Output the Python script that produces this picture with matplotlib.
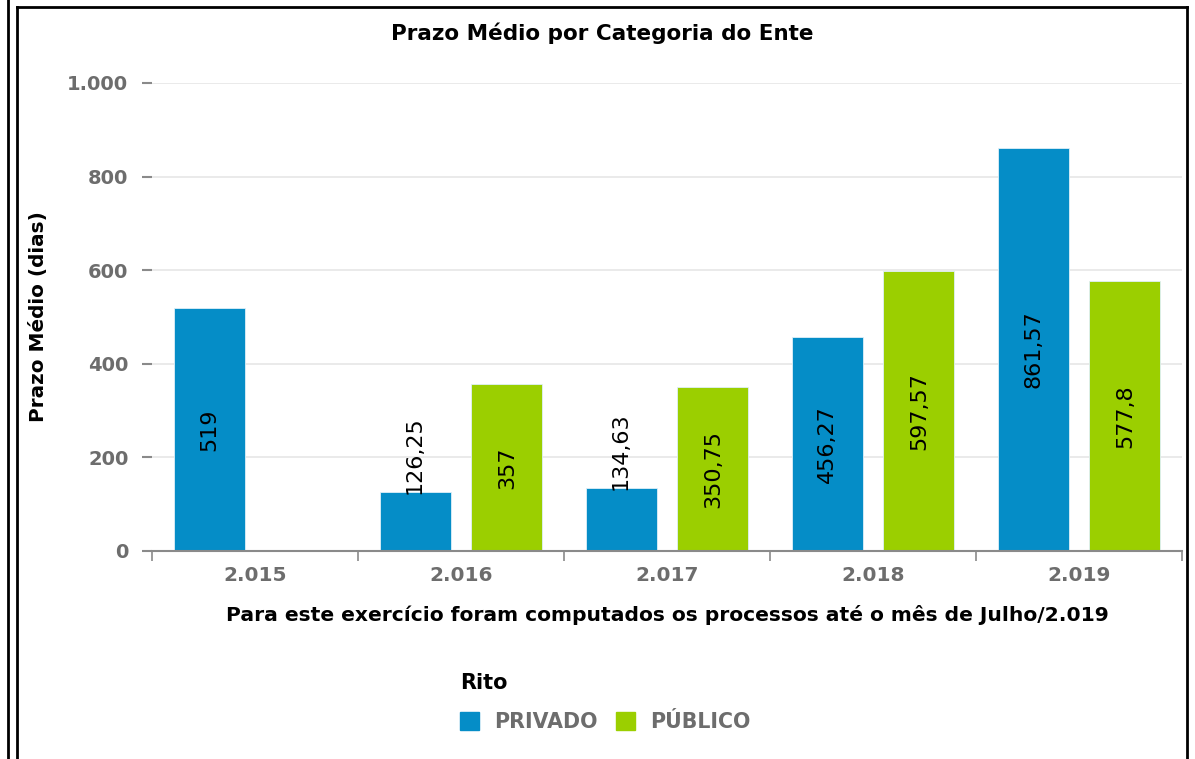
import numpy as np
import matplotlib
matplotlib.use("Agg")
import matplotlib.pyplot as plt
from matplotlib.lines import Line2D
from matplotlib.patches import Patch
import matplotlib.transforms as mtransforms

# data
years = ["2.015", "2.016", "2.017", "2.018", "2.019"]
privado = [519, 126.25, 134.63, 456.27, 861.57]
publico = [None, 357, 350.75, 597.57, 577.8]
series_names = ["PRIVADO", "PÚBLICO"]
yticks = [0, 200, 400, 600, 800, 1000]
ytick_labels = ["0", "200", "400", "600", "800", "1.000"]

blue = "#058DC7"
green = "#9BCF00"
gray = "#6d6d6d"

W, H = 1195, 759
fig = plt.figure(figsize=(W / 100, H / 100), dpi=100)
ax = fig.add_axes([152 / W, 1 - 551 / H, (1182 - 152) / W, (551 - 83) / H])

x = np.arange(len(years))
off = 0.223
bw = 0.345

def fmt(v):
    s = ("%.2f" % v).rstrip("0").rstrip(".")
    return s.replace(".", ",")

for vals, color, dx in [(privado, blue, -off), (publico, green, off)]:
    for i, v in enumerate(vals):
        if v is None:
            continue
        ax.bar(x[i] + dx, v, width=bw, color=color, edgecolor="#dff0f8", linewidth=0.6, zorder=3)
        if v > 300:
            ax.text(x[i] + dx, v / 2, fmt(v), rotation=90, ha="center", va="center",
                    fontsize=16, color="black", zorder=4)
        else:
            tr = mtransforms.offset_copy(ax.transData, fig=fig, x=0, y=-2, units="dots")
            ax.text(x[i] + dx, v, fmt(v), rotation=90, ha="center", va="bottom",
                    fontsize=16, color="black", zorder=4, transform=tr)

ax.set_xlim(-0.5, 4.5)
ax.set_ylim(0, 1000)
ax.set_yticks(yticks)
ax.set_yticklabels(ytick_labels)
ax.set_xticks(x)
ax.set_xticklabels(years)
ax.set_xticks(np.arange(-0.5, 5, 1), minor=True)
ax.tick_params(axis="x", which="major", length=0, pad=11, labelsize=14.5, labelcolor=gray)
ax.tick_params(axis="x", which="minor", length=7, color="#8a8a8a", width=1.2)
ax.tick_params(axis="y", length=7, color="#8a8a8a", width=1.5, pad=10, labelsize=14, labelcolor=gray)
for lab in ax.get_xticklabels() + ax.get_yticklabels():
    lab.set_fontweight("bold")

ax.grid(axis="y", color="#e6e6e6", linewidth=1.2, zorder=0)
for s in ["top", "right", "left"]:
    ax.spines[s].set_visible(False)
ax.spines["bottom"].set_color("#8a8a8a")
ax.spines["bottom"].set_linewidth(1.5)
ax.spines["bottom"].set_zorder(5)

fig.text(602 / W, 1 - 33 / H, "Prazo Médio por Categoria do Ente", fontsize=15.5,
         fontweight="bold", ha="center", va="center")
ax.set_ylabel("Prazo Médio (dias)", fontsize=14.4, fontweight="bold", labelpad=14)
ax.set_xlabel("Para este exercício foram computados os processos até o mês de Julho/2.019",
              fontsize=14.6, fontweight="bold", labelpad=14)

fig.text(460 / W, 1 - 683 / H, "Rito", fontsize=15, fontweight="bold", ha="left", va="center")
handles = [Patch(color=blue), Patch(color=green)]
leg = fig.legend(handles, series_names, loc="center", bbox_to_anchor=(605 / W, 1 - 722 / H),
                 ncol=2, frameon=False, handlelength=0.95, handleheight=0.95,
                 handletextpad=0.7, columnspacing=0.9, fontsize=14.8)
for t in leg.get_texts():
    t.set_color(gray)
    t.set_fontweight("bold")

# page borders
def fline(xs, ys, lw=2):
    fig.add_artist(Line2D([v / W for v in xs], [1 - v / H for v in ys], color="black",
                          linewidth=lw, transform=fig.transFigure))

fline([8, 8], [0, H])
fline([17, 17], [7, H])
fline([17, 1187], [7, 7])
fline([1187, 1187], [7, H])

fig.savefig("out.png", dpi=100)
